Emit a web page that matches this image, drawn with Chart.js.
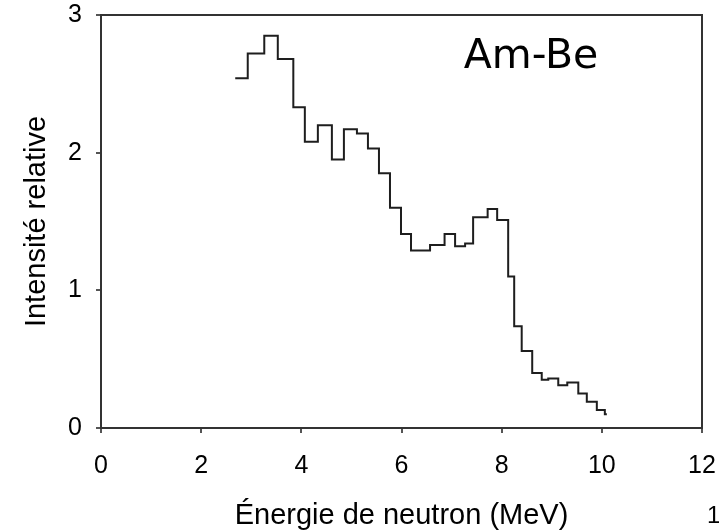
<!DOCTYPE html>
<html>
<head>
<meta charset="utf-8">
<script src="https://cdn.jsdelivr.net/npm/chart.js@4.4.0/dist/chart.umd.min.js"></script>
<style>
  html, body { margin: 0; padding: 0; background: #fff; }
  #wrap { width: 719px; height: 530px; }
</style>
</head>
<body>
<div id="wrap"><canvas id="spectre" width="719" height="530"></canvas></div>
<script>
// Am-Be neutron spectrum, step histogram
const binEdges = [2.68, 2.93, 3.26, 3.53, 3.84, 4.07, 4.33, 4.61, 4.85, 5.11,
    5.33, 5.55, 5.77, 5.99, 6.19, 6.37, 6.57, 6.86, 7.07, 7.27,
    7.43, 7.72, 7.91, 8.13, 8.25, 8.40, 8.61, 8.80, 8.93, 9.13,
    9.31, 9.53, 9.70, 9.90, 10.06, 10.10];
const intensity = [2.54, 2.72, 2.85, 2.68, 2.33, 2.08, 2.20, 1.95, 2.17, 2.14,
    2.03, 1.85, 1.60, 1.41, 1.29, 1.29, 1.33, 1.41, 1.32, 1.34,
    1.53, 1.59, 1.51, 1.10, 0.74, 0.56, 0.40, 0.35, 0.36, 0.31,
    0.33, 0.25, 0.19, 0.13, 0.10];
const xTicks = [0, 2, 4, 6, 8, 10, 12];
const yTicks = [0, 1, 2, 3];

const font = "'Liberation Sans', Arial, sans-serif";

// points: left edge of each bin, plus closing point at the last edge
const points = intensity.map((v, i) => ({x: binEdges[i], y: v}));
points.push({x: binEdges[binEdges.length - 1], y: intensity[intensity.length - 1]});

const frame = {
    id: "frame",
    afterDraw(chart) {
        const {ctx, chartArea: a} = chart;
        ctx.save();
        ctx.strokeStyle = "#333";
        ctx.lineWidth = 2;
        ctx.strokeRect(a.left, a.top, a.right - a.left, a.bottom - a.top);
        ctx.fillStyle = "#000";
        ctx.font = "41px 'DejaVu Sans', sans-serif";
        ctx.textAlign = "center";
        ctx.textBaseline = "middle";
        ctx.fillText("Am-Be", 531, 57);
        ctx.font = "24px " + font;
        ctx.textAlign = "left";
        ctx.fillText("1", 707, 516);
        ctx.restore();
    }
};

new Chart(document.getElementById("spectre"), {
    type: "line",
    data: {
        datasets: [{
            data: points,
            stepped: "before",
            borderColor: "#1e1e1e",
            borderWidth: 2,
            pointRadius: 0,
            fill: false,
        }],
    },
    options: {
        responsive: false,
        animation: false,
        devicePixelRatio: 1,
        layout: {padding: {top: 15, right: 17, left: 0, bottom: 0}},
        plugins: {legend: {display: false}, tooltip: {enabled: false}},
        scales: {
            x: {
                type: "linear",
                min: 0, max: 12,
                afterBuildTicks: s => { s.ticks = xTicks.map(v => ({value: v})); },
                afterFit: s => { s.height = 102; s.paddingLeft = 0; s.paddingRight = 0; },
                grid: {drawOnChartArea: false, tickLength: 5, color: "#555", lineWidth: 2},
                border: {color: "#333", width: 2},
                ticks: {color: "#000", font: {family: font, size: 25}, padding: 18, maxRotation: 0},
                title: {display: true, text: "Énergie de neutron (MeV)", color: "#000",
                    font: {family: font, size: 29, lineHeight: 1}, padding: {top: 0, bottom: 0}},
            },
            y: {
                min: 0, max: 3,
                afterBuildTicks: s => { s.ticks = yTicks.map(v => ({value: v})); },
                afterFit: s => { s.width = 101; s.paddingTop = 0; s.paddingBottom = 0; },
                grid: {drawOnChartArea: false, tickLength: 5, color: "#555", lineWidth: 2},
                border: {color: "#333", width: 2},
                ticks: {color: "#000", font: {family: font, size: 25}, padding: 14},
                title: {display: true, text: "Intensité relative", color: "#000",
                    font: {family: font, size: 29}, padding: {top: 20, bottom: 0}},
            },
        },
    },
    plugins: [frame],
});
</script>
</body>
</html>
